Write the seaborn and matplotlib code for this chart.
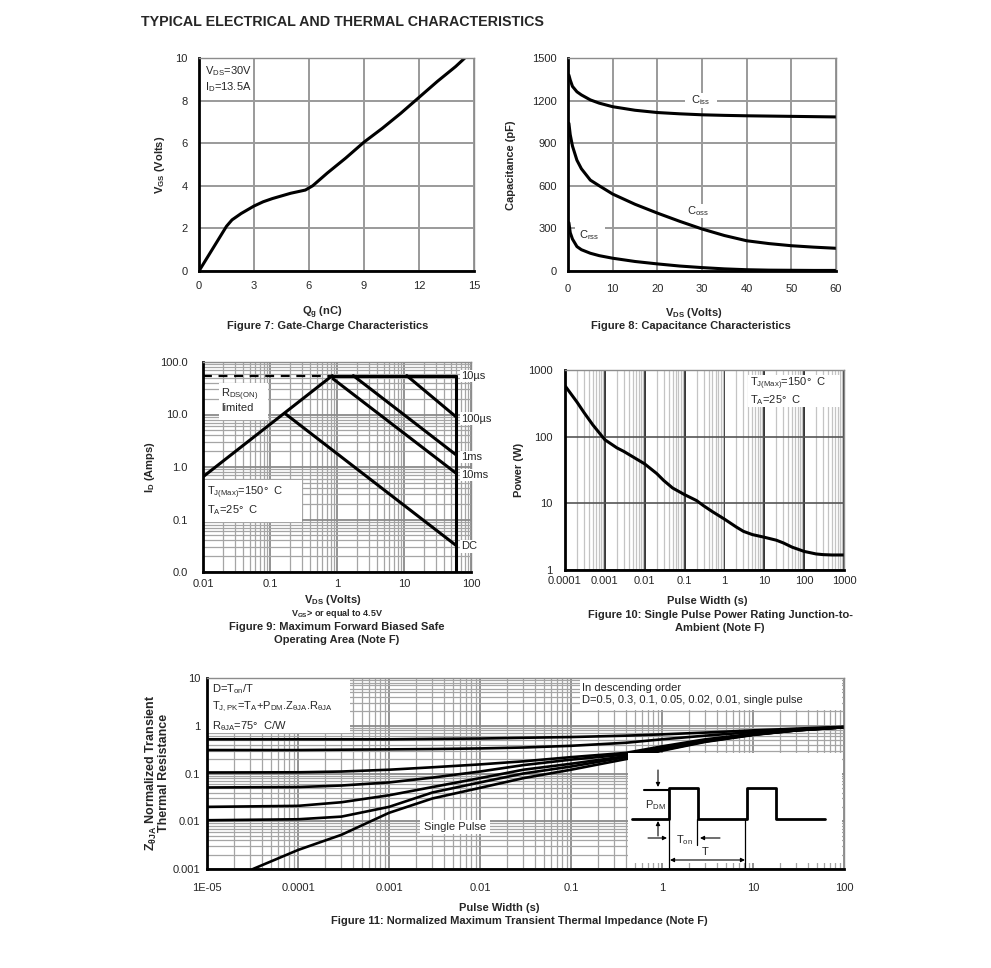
import matplotlib
matplotlib.use('Agg')
import matplotlib.pyplot as plt
from matplotlib.patches import Rectangle
from matplotlib.ticker import FixedLocator, NullFormatter, LogLocator, NullLocator
import seaborn as sns

# Figure 7: gate charge
qg = [0, 0.5, 1.0, 1.5, 1.8, 2.3, 3.0, 3.5, 4.0, 5.0, 5.8, 6.2, 7.0, 8.0, 9.0, 10.0, 11.0, 12.0, 13.0, 14.0, 14.5]
vgs = [0, 0.7, 1.4, 2.1, 2.4, 2.7, 3.05, 3.25, 3.4, 3.65, 3.8, 4.0, 4.6, 5.3, 6.05, 6.7, 7.4, 8.15, 8.9, 9.6, 10.0]

# Figure 8: capacitance
vds_cap = [0.2, 0.5, 1, 2, 3, 5, 7, 10, 15, 20, 25, 30, 35, 40, 45, 50, 55, 60]
ciss = [1380, 1345, 1300, 1262, 1240, 1205, 1182, 1157, 1132, 1116, 1107, 1100, 1096, 1093, 1091, 1089, 1087, 1085]
coss = [1040, 960, 880, 780, 720, 640, 600, 542, 470, 408, 350, 296, 250, 213, 193, 178, 168, 160]
crss = [340, 270, 225, 172, 150, 125, 108, 90, 67, 50, 35, 24, 15, 9, 6, 5, 4, 4]

# Figure 9: safe operating area (V, A)
soa_lines = {
    'rds': ([0.01, 0.85], [0.65, 55]),
    'limit': ([0.85, 60], [55, 55]),
    'vmax': ([60, 60], [55, 0.01]),
    '100us': ([11, 60], [55, 9.0]),
    '1ms': ([1.75, 60], [55, 1.7]),
    '10ms': ([0.87, 60], [48, 0.76]),
    'dc': ([0.175, 60], [10, 0.032]),
}
rds_dash_v = [0.01, 0.85]
rds_dash_i = [55, 55]
soa_labels = ['10µs', '100µs', '1ms', '10ms', 'DC']
soa_label_i = [54, 8.3, 1.55, 0.7, 0.031]

# Figure 10: single pulse power
pw = [1e-4, 2e-4, 3e-4, 5e-4, 1e-3, 2e-3, 3e-3, 5e-3, 1e-2, 2e-2, 3e-2, 5e-2, 0.1, 0.2, 0.3, 0.5,
      1, 2, 3, 5, 10, 20, 30, 50, 100, 200, 300, 500, 1000]
pwr = [580, 330, 230, 150, 90, 68, 60, 50, 39, 28, 22, 17, 13.5, 11, 9.2, 7.5,
       5.8, 4.4, 3.8, 3.4, 3.1, 2.8, 2.55, 2.2, 1.9, 1.74, 1.7, 1.68, 1.68]

# Figure 11: transient thermal impedance
zt = [1e-5, 1e-4, 3e-4, 1e-3, 3e-3, 1e-2, 3e-2, 0.1, 0.4, 1, 3, 10, 30, 100]
z_d05 = [0.52, 0.52, 0.52, 0.52, 0.53, 0.54, 0.56, 0.58, 0.62, 0.66, 0.72, 0.8, 0.87, 0.95]
z_d03 = [0.31, 0.31, 0.315, 0.32, 0.325, 0.335, 0.35, 0.38, 0.44, 0.52, 0.62, 0.74, 0.84, 0.94]
z_d01 = [0.105, 0.106, 0.11, 0.12, 0.135, 0.155, 0.18, 0.22, 0.27, 0.37, 0.52, 0.68, 0.82, 0.93]
z_d005 = [0.051, 0.052, 0.056, 0.065, 0.082, 0.11, 0.15, 0.195, 0.25, 0.34, 0.49, 0.66, 0.81, 0.93]
z_d002 = [0.02, 0.021, 0.025, 0.035, 0.052, 0.08, 0.12, 0.16, 0.23, 0.32, 0.48, 0.65, 0.8, 0.93]
z_d001 = [0.0105, 0.011, 0.0125, 0.02, 0.04, 0.065, 0.1, 0.14, 0.22, 0.31, 0.47, 0.65, 0.8, 0.93]
zt_single = [3.2e-5, 1e-4, 3e-4, 1e-3, 3e-3, 1e-2, 3e-2, 0.1, 0.4, 1, 3, 10, 30, 100]
z_single = [0.001, 0.0025, 0.0052, 0.015, 0.03, 0.05, 0.08, 0.12, 0.2, 0.3, 0.46, 0.64, 0.8, 0.93]

W, H = 991, 968
TICK = 8
LAB = 8

sns.set_style('white')
plt.rcParams['font.family'] = ['Liberation Sans', 'DejaVu Sans']
plt.rcParams['mathtext.fontset'] = 'custom'
plt.rcParams['mathtext.rm'] = 'Liberation Sans'
plt.rcParams['mathtext.default'] = 'regular'

fig = plt.figure(figsize=(W / 100, H / 100), dpi=100)


def add_ax(box):
    l, t, r, b = box
    return fig.add_axes([l / W, 1 - b / H, (r - l) / W, (b - t) / H])


def frac(box, x, y):
    l, t, r, b = box
    return (x - l) / (r - l), (b - y) / (b - t)


def white_box(ax, box, l, t, r, b, z=1.5):
    x0, y1 = frac(box, l, t)
    x1, y0 = frac(box, r, b)
    ax.add_patch(Rectangle((x0, y0), x1 - x0, y1 - y0, transform=ax.transAxes,
                           fc='white', ec='none', zorder=z, clip_on=False))


def frame(ax, xpad, ypad):
    for s in ['top', 'right']:
        ax.spines[s].set_color('#8c8c8c')
        ax.spines[s].set_linewidth(1.0)
    for s in ['left', 'bottom']:
        ax.spines[s].set_color('black')
        ax.spines[s].set_linewidth(2.0)
    ax.tick_params(axis='both', which='both', length=0, labelsize=TICK)
    ax.tick_params(axis='x', pad=xpad)
    ax.tick_params(axis='y', pad=ypad)
    ax.set_axisbelow(True)


def ftext(x, y, s, **kw):
    fig.text(x / W, 1 - y / H, s, ha='center', va='center', **kw)


line_kw = dict(color='black', linewidth=2.2, estimator=None, sort=False, legend=False)

fig.text(141 / W, 1 - 22 / H, 'TYPICAL ELECTRICAL AND THERMAL CHARACTERISTICS',
         fontsize=10.3, fontweight='bold', va='center', ha='left')

# ---------------- Figure 7 ----------------
b7 = (199, 58, 474, 271)
ax7 = add_ax(b7)
sns.lineplot(x=qg, y=vgs, ax=ax7, **line_kw)
ax7.set_xlim(0, 15)
ax7.set_ylim(0, 10)
ax7.set_xticks([0, 3, 6, 9, 12, 15])
ax7.set_yticks([0, 2, 4, 6, 8, 10])
ax7.grid(True, color='#9a9a9a', linewidth=1.4)
frame(ax7, 7, 8)
white_box(ax7, b7, 199, 58, 253, 97)
ax7.text(*frac(b7, 205, 64), 'V$_{DS}$=30V\nI$_{D}$=13.5A', transform=ax7.transAxes,
         fontsize=8, va='top', ha='left', linespacing=1.25, zorder=3)
ftext(160, 165, 'V$_{GS}$ (Volts)', rotation=90, fontsize=LAB, fontweight='bold')
ftext(322, 313, 'Q$_{g}$ (nC)', fontsize=LAB, fontweight='bold')
ftext(328, 326, 'Figure 7: Gate-Charge Characteristics', fontsize=LAB, fontweight='bold')

# ---------------- Figure 8 ----------------
b8 = (568, 58, 836, 271)
ax8 = add_ax(b8)
for cap in (ciss, coss, crss):
    sns.lineplot(x=vds_cap, y=cap, ax=ax8, **line_kw)
ax8.set_xlim(0, 60)
ax8.set_ylim(0, 1500)
ax8.set_xticks(range(0, 61, 10))
ax8.set_yticks(range(0, 1501, 300))
ax8.grid(True, color='#9a9a9a', linewidth=1.4)
frame(ax8, 9, 8)
white_box(ax8, b8, 685, 93, 717, 108)
white_box(ax8, b8, 685, 204, 711, 218)
white_box(ax8, b8, 575, 226, 605, 243)
ax8.text(*frac(b8, 701, 100), 'C$_{iss}$', transform=ax8.transAxes, fontsize=8,
         ha='center', va='center', zorder=3)
ax8.text(*frac(b8, 698, 211), 'C$_{oss}$', transform=ax8.transAxes, fontsize=8,
         ha='center', va='center', zorder=3)
ax8.text(*frac(b8, 589, 235), 'C$_{rss}$', transform=ax8.transAxes, fontsize=8,
         ha='center', va='center', zorder=3)
ftext(511, 165, 'Capacitance (pF)', rotation=90, fontsize=LAB, fontweight='bold')
ftext(694, 313, 'V$_{DS}$ (Volts)', fontsize=LAB, fontweight='bold')
ftext(691, 326, 'Figure 8: Capacitance Characteristics', fontsize=LAB, fontweight='bold')

# ---------------- Figure 9 ----------------
b9 = (203, 362, 471, 572)
ax9 = add_ax(b9)
ax9.set_xscale('log')
ax9.set_yscale('log')
for key, (xv, yv) in soa_lines.items():
    sns.lineplot(x=xv, y=yv, ax=ax9, **line_kw)
sns.lineplot(x=rds_dash_v, y=rds_dash_i, ax=ax9, color='black', linewidth=1.6,
             linestyle=(0, (4, 3)), estimator=None, sort=False)
ax9.set_xlim(0.01, 100)
ax9.set_ylim(0.01, 100)
ax9.xaxis.set_major_locator(FixedLocator([0.01, 0.1, 1, 10, 100]))
ax9.set_xticklabels(['0.01', '0.1', '1', '10', '100'])
ax9.yaxis.set_major_locator(FixedLocator([0.01, 0.1, 1, 10, 100]))
ax9.set_yticklabels(['0.0', '0.1', '1.0', '10.0', '100.0'])
for a in (ax9.xaxis, ax9.yaxis):
    a.set_minor_locator(LogLocator(base=10, subs=range(2, 10)))
    a.set_minor_formatter(NullFormatter())
ax9.grid(True, which='major', color='#8a8a8a', linewidth=1.3)
ax9.grid(True, which='minor', color='#a5a5a5', linewidth=0.9)
frame(ax9, 5, 11)
white_box(ax9, b9, 219, 383, 268, 420)
white_box(ax9, b9, 203, 480, 302, 522)
ax9.text(*frac(b9, 221, 387), 'R$_{DS(ON)}$\nlimited', transform=ax9.transAxes, fontsize=8,
         va='top', ha='left', linespacing=1.0, zorder=3)
ax9.text(*frac(b9, 207, 485), 'T$_{J(Max)}$=150°  C\nT$_{A}$=25°  C', transform=ax9.transAxes,
         fontsize=8, va='top', ha='left', linespacing=1.15, zorder=3)
for lab, yv in zip(soa_labels, soa_label_i):
    ax9.text(72, yv, lab, fontsize=8, ha='left', va='center', zorder=4, clip_on=False,
             bbox=dict(fc='white', ec='none', pad=1.0))
ftext(150, 467, 'I$_{D}$ (Amps)', rotation=90, fontsize=LAB, fontweight='bold')
ftext(333, 600, 'V$_{DS}$ (Volts)', fontsize=LAB, fontweight='bold')
ftext(337, 614, 'V$_{GS}$> or equal to 4.5V', fontsize=6.5, fontweight='bold')
ftext(337, 627, 'Figure 9: Maximum Forward Biased Safe', fontsize=LAB, fontweight='bold')
ftext(337, 640, 'Operating Area (Note F)', fontsize=LAB, fontweight='bold')

# ---------------- Figure 10 ----------------
b10 = (565, 370, 844, 570)
ax10 = add_ax(b10)
ax10.set_xscale('log')
ax10.set_yscale('log')
sns.lineplot(x=pw, y=pwr, ax=ax10, **line_kw)
ax10.set_xlim(1e-4, 1000)
ax10.set_ylim(1, 1000)
ax10.xaxis.set_major_locator(FixedLocator([1e-4, 1e-3, 1e-2, 0.1, 1, 10, 100, 1000]))
ax10.set_xticklabels(['0.0001', '0.001', '0.01', '0.1', '1', '10', '100', '1000'])
ax10.yaxis.set_major_locator(FixedLocator([1, 10, 100, 1000]))
ax10.set_yticklabels(['1', '10', '100', '1000'])
ax10.xaxis.set_minor_locator(LogLocator(base=10, subs=range(2, 10)))
ax10.xaxis.set_minor_formatter(NullFormatter())
ax10.yaxis.set_minor_locator(NullLocator())
ax10.grid(True, axis='x', which='minor', color='#c4c4c4', linewidth=0.9)
ax10.grid(True, axis='x', which='major', color='#111111', linewidth=1.2)
ax10.grid(True, axis='y', which='major', color='#555555', linewidth=1.2)
frame(ax10, 4, 9)
white_box(ax10, b10, 748, 375, 840, 407)
ax10.text(*frac(b10, 750, 376), 'T$_{J(Max)}$=150°  C\nT$_{A}$=25°  C', transform=ax10.transAxes,
          fontsize=8, va='top', ha='left', linespacing=1.1, zorder=3)
ftext(519, 470, 'Power (W)', rotation=90, fontsize=LAB, fontweight='bold')
ftext(707, 601, 'Pulse Width (s)', fontsize=LAB, fontweight='bold')
ftext(720, 615, 'Figure 10: Single Pulse Power Rating Junction-to-', fontsize=LAB, fontweight='bold')
ftext(720, 628, 'Ambient (Note F)', fontsize=LAB, fontweight='bold')

# ---------------- Figure 11 ----------------
b11 = (207, 678, 844, 869)
ax11 = add_ax(b11)
ax11.set_xscale('log')
ax11.set_yscale('log')
for zv in (z_d05, z_d03, z_d01, z_d005, z_d002, z_d001):
    sns.lineplot(x=zt, y=zv, ax=ax11, color='black', linewidth=1.9, estimator=None, sort=False)
sns.lineplot(x=zt_single, y=z_single, ax=ax11, color='black', linewidth=1.9,
             estimator=None, sort=False)
ax11.set_xlim(1e-5, 100)
ax11.set_ylim(0.001, 10)
ax11.xaxis.set_major_locator(FixedLocator([1e-5, 1e-4, 1e-3, 1e-2, 0.1, 1, 10, 100]))
ax11.set_xticklabels(['1E-05', '0.0001', '0.001', '0.01', '0.1', '1', '10', '100'])
ax11.yaxis.set_major_locator(FixedLocator([0.001, 0.01, 0.1, 1, 10]))
ax11.set_yticklabels(['0.001', '0.01', '0.1', '1', '10'])
for a in (ax11.xaxis, ax11.yaxis):
    a.set_minor_locator(LogLocator(base=10, subs=range(2, 10)))
    a.set_minor_formatter(NullFormatter())
ax11.grid(True, which='major', color='#8a8a8a', linewidth=1.3)
ax11.grid(True, which='minor', color='#a5a5a5', linewidth=0.9)
frame(ax11, 10, 5)
white_box(ax11, b11, 207, 678, 350, 733)
white_box(ax11, b11, 580, 678, 842, 710)
white_box(ax11, b11, 420, 820, 490, 834)
white_box(ax11, b11, 628, 753, 842, 863, z=2.5)
ax11.text(*frac(b11, 212, 682),
          'D=T$_{on}$/T\nT$_{J,PK}$=T$_{A}$+P$_{DM}$.Z$_{θJA}$.R$_{θJA}$\nR$_{θJA}$=75°  C/W',
          transform=ax11.transAxes, fontsize=8, va='top', ha='left', linespacing=1.45, zorder=3)
ax11.text(*frac(b11, 582, 683),
          'In descending order\nD=0.5, 0.3, 0.1, 0.05, 0.02, 0.01, single pulse',
          transform=ax11.transAxes, fontsize=8, va='top', ha='left', linespacing=1.3, zorder=3)
ax11.text(*frac(b11, 455, 827), 'Single Pulse', transform=ax11.transAxes, fontsize=8,
          va='center', ha='center', zorder=3)
ftext(157, 773, 'Z$_{θJA}$ Normalized Transient\nThermal Resistance', rotation=90, fontsize=LAB + 1,
      fontweight='bold', linespacing=0.95)
ftext(499, 908, 'Pulse Width (s)', fontsize=LAB, fontweight='bold')
ftext(519, 921, 'Figure 11: Normalized Maximum Transient Thermal Impedance (Note F)', fontsize=LAB,
      fontweight='bold')

# pulse train sketch (schematic, in reference pixel units)
ins = fig.add_axes([628 / W, 1 - 869 / H, (844 - 628) / W, (869 - 753) / H])
ins.set_xlim(628, 844)
ins.set_ylim(869, 753)
ins.axis('off')
ins.patch.set_alpha(0)
ins.plot([632, 669, 669, 698, 698, 747, 747, 776, 776, 825],
         [819, 819, 788, 788, 819, 819, 788, 788, 819, 819], color='black', lw=2.0)
ins.plot([644, 669], [790, 790], color='black', lw=1.5)
ins.plot([669, 669], [819, 868], color='black', lw=0.9)
ins.plot([745, 745], [819, 868], color='black', lw=0.9)
ins.plot([697, 697], [819, 845], color='black', lw=0.9)
arr = dict(arrowstyle='-|>', color='black', lw=0.8, mutation_scale=6, shrinkA=0, shrinkB=0)
ins.annotate('', xy=(658, 787), xytext=(658, 770), arrowprops=arr)
ins.annotate('', xy=(658, 821), xytext=(658, 836), arrowprops=arr)
ins.annotate('', xy=(667, 838), xytext=(648, 838), arrowprops=arr)
ins.annotate('', xy=(700, 838), xytext=(720, 838), arrowprops=arr)
ins.annotate('', xy=(745, 860), xytext=(670, 860),
             arrowprops=dict(arrowstyle='<|-|>', color='black', lw=0.8, mutation_scale=6,
                             shrinkA=0, shrinkB=0))
ins.text(655, 805, 'P$_{DM}$', fontsize=8, ha='center', va='center')
ins.text(684, 840, 'T$_{on}$', fontsize=8, ha='center', va='center')
ins.text(705, 852, 'T', fontsize=8, ha='center', va='center')

fig.savefig('out.png', dpi=100)
